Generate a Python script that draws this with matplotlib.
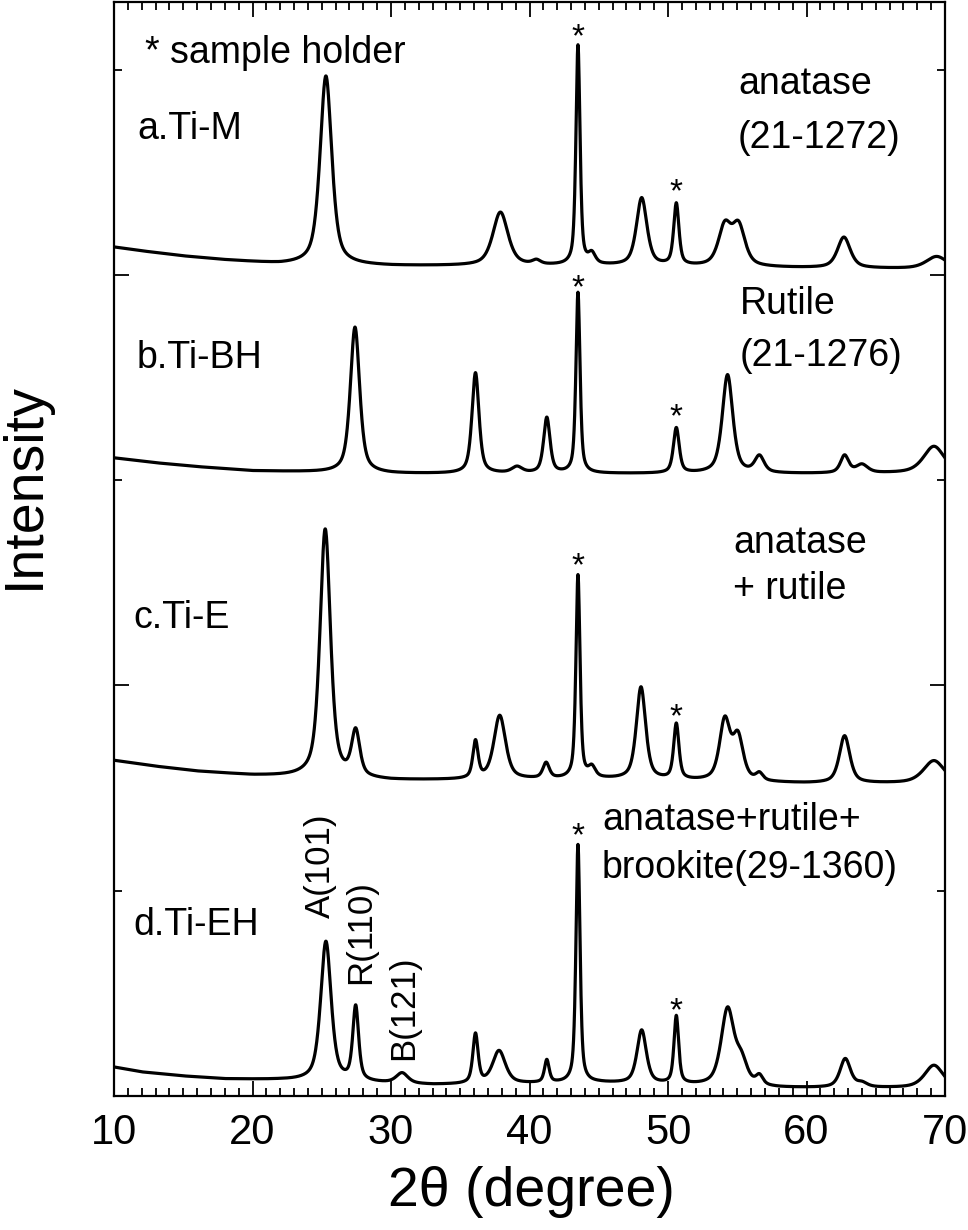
import numpy as np
import matplotlib.pyplot as plt
from matplotlib.ticker import MultipleLocator

plt.rcParams['font.family'] = ['Liberation Sans', 'DejaVu Sans']

# 2theta grid (degree)
two_theta = np.linspace(10, 70, 3001)

# background points and peak table, one per sample
m_bg_x = [10, 12, 15, 18, 22, 30, 45, 60, 70]
m_bg_y = [4.136, 4.117, 4.092, 4.073, 4.053, 4.044, 4.044, 4.034, 4.029]
m_pos = [25.3, 37.9, 40.5, 43.5, 44.5, 48.1, 50.6, 54.1, 55.1, 62.7, 69.4]
m_hgt = [0.92, 0.26, 0.02, 1.07, 0.05, 0.33, 0.30, 0.19, 0.19, 0.15, 0.06]
m_fwhm = [1.0, 1.3, 0.7, 0.35, 0.6, 0.9, 0.45, 1.1, 1.1, 1.1, 1.8]

bh_bg_x = [10, 13, 16, 20, 30, 45, 60, 70]
bh_bg_y = [3.109, 3.085, 3.066, 3.046, 3.032, 3.032, 3.032, 3.035]
bh_pos = [27.4, 36.1, 39.1, 41.25, 43.5, 50.6, 54.3, 56.6, 62.75, 64.0, 69.2]
bh_hgt = [0.71, 0.49, 0.03, 0.27, 0.88, 0.22, 0.48, 0.08, 0.085, 0.04, 0.13]
bh_fwhm = [0.8, 0.6, 0.9, 0.55, 0.35, 0.5, 0.9, 0.8, 0.7, 1.0, 1.8]

e_bg_x = [10, 13, 16, 20, 30, 45, 60, 70]
e_bg_y = [1.635, 1.606, 1.582, 1.562, 1.538, 1.543, 1.523, 1.523]
e_pos = [25.25, 27.45, 36.1, 37.85, 41.2, 43.5, 44.5, 48.05, 50.6, 54.1, 55.05, 56.6, 62.75, 69.2]
e_hgt = [1.21, 0.22, 0.18, 0.31, 0.075, 0.99, 0.05, 0.45, 0.27, 0.29, 0.21, 0.035, 0.23, 0.11]
e_fwhm = [0.9, 0.7, 0.45, 1.0, 0.55, 0.35, 0.6, 0.8, 0.45, 0.9, 0.9, 0.6, 0.9, 1.8]

eh_bg_x = [10, 12, 15, 18, 22, 33, 45, 58, 70]
eh_bg_y = [0.141, 0.117, 0.097, 0.083, 0.078, 0.054, 0.063, 0.039, 0.039]
eh_pos = [25.3, 27.45, 30.8, 36.1, 37.8, 41.25, 43.5, 48.1, 50.6, 54.3, 55.3, 56.6, 62.8, 64.0, 69.2]
eh_hgt = [0.68, 0.36, 0.05, 0.24, 0.16, 0.11, 1.16, 0.26, 0.33, 0.37, 0.11, 0.045, 0.14, 0.02, 0.11]
eh_fwhm = [0.9, 0.5, 1.0, 0.45, 1.1, 0.4, 0.35, 0.8, 0.4, 1.1, 1.0, 0.6, 0.9, 0.9, 1.6]

# sample holder peaks (*) and where the marks sit
star_x = [43.5, 50.6, 43.5, 50.6, 43.5, 50.6, 43.5, 50.6]
star_y = [5.20, 4.448, 3.98, 3.353, 2.623, 1.888, 1.309, 0.457]

sample_names = ['a.Ti-M', 'b.Ti-BH', 'c.Ti-E', 'd.Ti-EH']
name_x = [11.66, 11.66, 11.37, 11.37]
name_y = [4.662, 3.547, 2.282, 0.783]

phase_lines = ['anatase', '(21-1272)', 'Rutile', '(21-1276)',
               'anatase', '+ rutile', 'anatase+rutile+', 'brookite(29-1360)']
phase_x = [55.05, 55.05, 55.2, 55.2, 54.7, 54.7, 45.23, 45.23]
phase_y = [4.881, 4.618, 3.810, 3.557, 2.647, 2.423, 1.294, 1.061]

hkl_labels = ['A(101)', 'R(110)', 'B(121)']
hkl_x = [24.87, 27.83, 30.94]
hkl_y = [1.124, 0.798, 0.428]


def pattern(bg_x, bg_y, pos, hgt, fwhm, eta=0.6):
    # background + pseudo-Voigt peaks
    y = np.interp(two_theta, bg_x, bg_y)
    for c, h, w in zip(pos, hgt, fwhm):
        d = (two_theta - c) / w
        y = y + h * (eta / (1 + 4 * d**2) + (1 - eta) * np.exp(-4 * np.log(2) * d**2))
    return y


fig = plt.figure(figsize=(9.68, 12.30), dpi=100)
ax = fig.add_axes([114 / 968, 134 / 1230, 831 / 968, 1094 / 1230])

for args in [(m_bg_x, m_bg_y, m_pos, m_hgt, m_fwhm),
             (bh_bg_x, bh_bg_y, bh_pos, bh_hgt, bh_fwhm),
             (e_bg_x, e_bg_y, e_pos, e_hgt, e_fwhm),
             (eh_bg_x, eh_bg_y, eh_pos, eh_hgt, eh_fwhm)]:
    ax.plot(two_theta, pattern(*args), color='black', lw=2.3)

ax.set_xlim(10, 70)
ax.set_ylim(0, 5.33)

ax.xaxis.set_major_locator(MultipleLocator(10))
ax.xaxis.set_minor_locator(MultipleLocator(1))
ax.set_yticks([2, 4])
ax.set_yticks([1, 3, 5], minor=True)
ax.tick_params(which='both', direction='in', top=True, right=True, width=1.3)
ax.tick_params(which='major', length=11)
ax.tick_params(which='minor', length=6)
ax.tick_params(axis='x', labelsize=30, pad=12)
ax.tick_params(axis='y', labelleft=False)
for s in ax.spines.values():
    s.set_linewidth(1.6)

ax.set_xlabel('2θ (degree)', fontsize=40)
ax.xaxis.set_label_coords(0.502, -0.088)
ax.xaxis.label.set_va('center')
ax.set_ylabel('Intensity', fontsize=40)
ax.yaxis.set_label_coords(-0.107, 0.558)
ax.yaxis.label.set_va('center')

# asterisks over the sample holder peaks
for x, y in zip(star_x, star_y):
    ax.annotate('*', xy=(x, y), xytext=(0, -13), textcoords='offset points',
                ha='center', va='baseline', fontsize=24)

ax.text(12.24, 5.032, '* sample holder', fontsize=27, va='baseline')
for t, x, y in zip(sample_names, name_x, name_y):
    ax.text(x, y, t, fontsize=27, va='baseline')
for t, x, y in zip(phase_lines, phase_x, phase_y):
    ax.text(x, y, t, fontsize=27, va='baseline')
for t, x, y in zip(hkl_labels, hkl_x, hkl_y):
    ax.text(x, y, t, fontsize=25, rotation=90, ha='center', va='center')

fig.savefig('out.png', dpi=100)
